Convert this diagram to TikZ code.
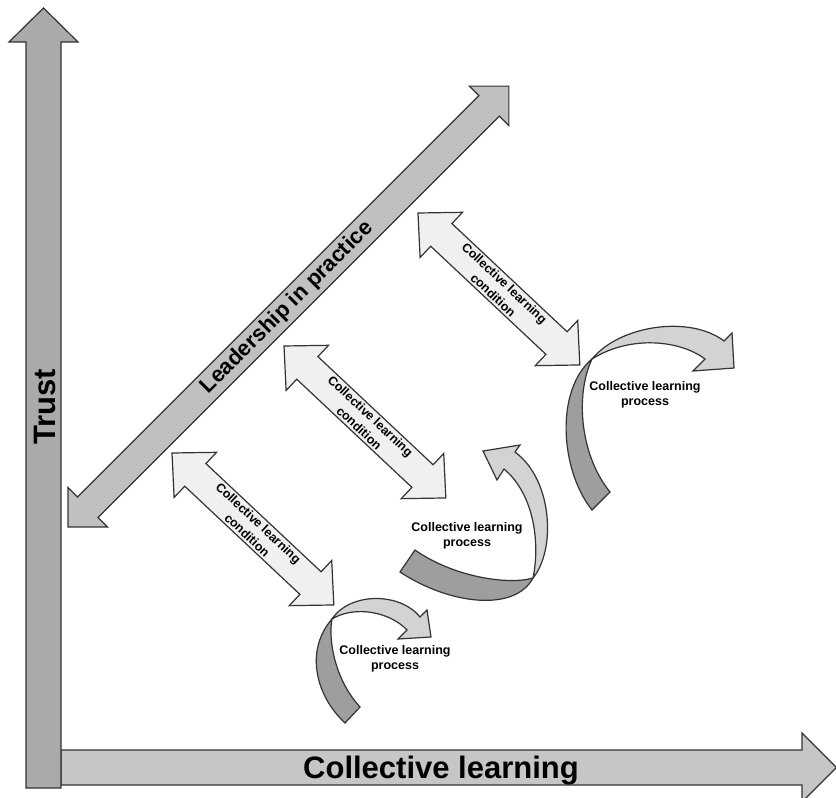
\documentclass[tikz,border=0pt]{standalone}
\usepackage{fontspec}
\setmainfont{Liberation Sans}

\definecolor{trustgray}{HTML}{AAAAAA}
\definecolor{learngray}{HTML}{C6C6C6}
\definecolor{leadgray}{HTML}{C0C0C0}
\definecolor{condgray}{HTML}{F0F0F0}
\definecolor{frontgray}{HTML}{D3D3D3}
\definecolor{backgray}{HTML}{9E9E9E}

\tikzset{
  block/.style={draw=black!80, line width=1.2pt},
  bigtext/.style={font=\fontsize{31}{36}\selectfont\bfseries, inner sep=0pt},
  midtext/.style={font=\fontsize{22}{26}\selectfont\bfseries, inner sep=0pt},
  smalltext/.style={font=\fontsize{12.5}{15}\selectfont\bfseries, align=center, inner sep=0pt},
  condtext/.style={smalltext, font=\fontsize{12.5}{16.5}\selectfont\bfseries}
}

% double headed block arrow on the local x axis
% #1 style, #2 length, #3 shaft half width, #4 head half width, #5 head length
\newcommand{\dblblock}[5]{%
  \filldraw[#1] (0,0) -- (#5,#4) -- (#5,#3) -- ({#2-#5},#3) -- ({#2-#5},#4)
    -- (#2,0) -- ({#2-#5},-#4) -- ({#2-#5},-#3) -- (#5,-#3) -- (#5,-#4) -- cycle;}

\begin{document}
\begin{tikzpicture}[x=1pt,y=-1pt]
  \useasboundingbox (0,0) rectangle (836,798);
  % Axes
  \filldraw[block, fill=learngray] (61,750) -- (802,750) -- (802,733) -- (836.5,767.5)
    -- (802,802) -- (802,785) -- (61,785) -- cycle;
  \filldraw[block, fill=trustgray] (26,788) -- (26,42) -- (9,42) -- (43.5,8)
    -- (78,42) -- (61,42) -- (61,788) -- cycle;
  \node[bigtext, rotate=90, anchor=base] (trust) at (55,407) {Trust};
  \node[bigtext, anchor=base] (learning) at (441,778) {Collective learning};
  % Leadership
  \begin{scope}[shift={(68,527)}, rotate=45]
    \dblblock{block, fill=leadgray}{623.5}{14.5}{28}{28}
    \node[midtext, transform shape] (leadership) at (310,0) {Leadership in practice};
  \end{scope}
  % Conditions
  \begin{scope}[shift={(172,453)}, rotate=-43.2]
    \dblblock{block, fill=condgray}{222}{15.5}{31}{32}
    \node[condtext, transform shape] (cond1) at (111,0) {Collective learning\\condition};
  \end{scope}
  \begin{scope}[shift={(284,346)}, rotate=-43.2]
    \dblblock{block, fill=condgray}{222}{15.5}{31}{32}
    \node[condtext, transform shape] (cond2) at (111,0) {Collective learning\\condition};
  \end{scope}
  \begin{scope}[shift={(418,213)}, rotate=-43.2]
    \dblblock{block, fill=condgray}{222}{15.5}{31}{32}
    \node[condtext, transform shape] (cond3) at (111,0) {Collective learning\\condition};
  \end{scope}
  % Processes
  \filldraw[block, fill=backgray] (345,723) .. controls (315,695) and (305,650) .. (332,619)
    .. controls (328,640) and (335,680) .. (360,707) -- cycle;
  \filldraw[block, fill=frontgray] (332,619) .. controls (350,592) and (400,592) .. (420,617)
    -- (427,610) -- (431,637) -- (398,639) -- (407,630)
    .. controls (390,612) and (355,605) .. (332,619) -- cycle;
  \node[smalltext] (proc1) at (395,659) {Collective learning\\process};

  \filldraw[block, fill=backgray] (400,572) .. controls (450,605) and (515,612) .. (533,578)
    .. controls (510,585) and (455,578) .. (415,550) -- cycle;
  \filldraw[block, fill=frontgray] (533,578) .. controls (556,550) and (553,480) .. (515,452)
    -- (520,445) -- (483,451) -- (497,480) -- (504,469)
    .. controls (535,495) and (540,545) .. (533,578) -- cycle;
  \node[smalltext] (proc2) at (467,536) {Collective learning\\process};

  \filldraw[block, fill=backgray] (592,510) .. controls (560,470) and (555,390) .. (592,359)
    .. controls (575,395) and (580,455) .. (610,492) -- cycle;
  \filldraw[block, fill=frontgray] (592,359) .. controls (620,325) and (690,315) .. (724,341)
    -- (732,333) -- (734,368) -- (693,371) -- (705,359)
    .. controls (680,340) and (630,335) .. (592,359) -- cycle;
  \node[smalltext] (proc3) at (645,395) {Collective learning\\process};
\end{tikzpicture}
\end{document}
